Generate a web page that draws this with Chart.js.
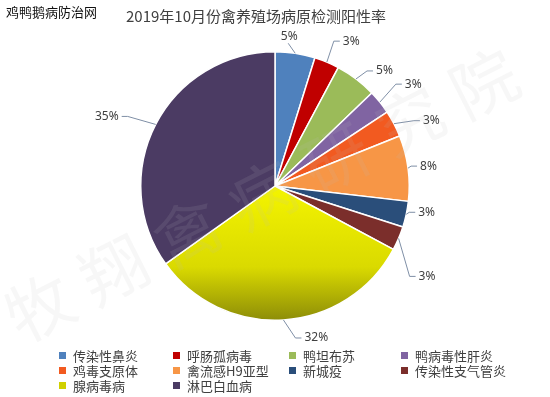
<!DOCTYPE html>
<html>
<head>
<meta charset="utf-8">
<script src="https://cdn.jsdelivr.net/npm/chart.js@4/dist/chart.umd.min.js"></script>
<style>
  body { margin: 0; background: #fff; }
  canvas { display: block; }
</style>
</head>
<body>
<canvas id="pie" width="550" height="397"></canvas>
<script>
const chartTitle = "2019年10月份禽养殖场病原检测阳性率";
const siteName = "鸡鸭鹅病防治网";
const watermark = "牧翔禽病研究院";
const categories = [
  "传染性鼻炎", "呼肠孤病毒", "鸭坦布苏", "鸭病毒性肝炎",
  "鸡毒支原体", "禽流感H9亚型", "新城疫", "传染性支气管炎",
  "腺病毒病", "淋巴白血病"
];
const positiveRates = [4.8, 3.0, 5.0, 2.9, 3.2, 7.9, 3.1, 2.9, 32.3, 34.8];
const sliceColors = [
  "#4F81BD", "#C00000", "#9BBB59", "#8064A2",
  "#F25A20", "#F79646", "#2A4E7A", "#7B2E2B",
  "yellow", "#4B3B63"
];

// leader line elbow offsets from slice edge, and label placement mode
const leaderOffsets = [
  [-7, -10, "up"], [7, -21], [11, -8], [16, -18], [20, -3],
  [3, -2], [3, -2], [11, 38], [12, 18], [-28, -8]
];

function yellowFill(context) {
  const area = context.chart.chartArea;
  if (!area) return "#E6E600";
  const cy = (area.top + area.bottom) / 2;
  const g = context.chart.ctx.createLinearGradient(0, cy, 0, area.bottom);
  g.addColorStop(0, "#F4F400");
  g.addColorStop(0.6, "#DADA00");
  g.addColorStop(1, "#8C8C08");
  return g;
}

const leaderPlugin = {
  id: "leaderLabels",
  afterDatasetsDraw(chart) {
    const ctx = chart.ctx;
    const arcs = chart.getDatasetMeta(0).data;
    ctx.save();
    ctx.font = "12px 'Noto Sans'";
    ctx.fillStyle = "#404040";
    ctx.strokeStyle = "#7F8FA6";
    ctx.lineWidth = 1;
    arcs.forEach(function (arc, i) {
      const mid = (arc.startAngle + arc.endAngle) / 2;
      const ax = arc.x + Math.cos(mid) * arc.outerRadius;
      const ay = arc.y + Math.sin(mid) * arc.outerRadius;
      const off = leaderOffsets[i];
      const ex = ax + off[0];
      const ey = ay + off[1];
      const text = Math.round(positiveRates[i]) + "%";
      ctx.beginPath();
      ctx.moveTo(ax, ay);
      ctx.lineTo(ex, ey);
      if (off[2] === "up") {
        ctx.stroke();
        ctx.textAlign = "center";
        ctx.textBaseline = "bottom";
        ctx.fillText(text, ex + 1, ey - 1);
        return;
      }
      const right = off[0] >= 0;
      const hx = right ? ex + 6 : ex - 6;
      ctx.lineTo(hx, ey);
      ctx.stroke();
      ctx.textAlign = right ? "left" : "right";
      ctx.textBaseline = "middle";
      ctx.fillText(text, right ? hx + 3 : hx - 3, ey);
    });
    ctx.restore();
  },
  afterDraw(chart) {
    const ctx = chart.ctx;
    ctx.save();
    // faint diagonal watermark
    ctx.fillStyle = "rgba(190, 190, 190, 0.12)";
    ctx.font = "66px 'Noto Sans CJK SC'";
    ctx.textAlign = "center";
    ctx.textBaseline = "middle";
    const ang = -26.8 * Math.PI / 180;
    Array.from(watermark).forEach(function (ch, i) {
      ctx.save();
      ctx.translate(40 + i * 74, 307 - i * 37.3);
      ctx.rotate(ang);
      ctx.fillText(ch, 0, 0);
      ctx.restore();
    });
    // site name
    ctx.fillStyle = "#111";
    ctx.font = "13px 'Noto Sans CJK SC'";
    ctx.textAlign = "left";
    ctx.textBaseline = "middle";
    ctx.fillText(siteName, 6, 12);
    // title
    ctx.fillStyle = "#404040";
    ctx.font = "15px 'Noto Sans CJK SC'";
    ctx.textAlign = "center";
    ctx.fillText(chartTitle, 256, 16);
    // legend
    const colX = [62, 176, 292, 404];
    const rowY = [355, 370, 385];
    ctx.font = "13px 'Noto Sans CJK SC'";
    ctx.textAlign = "left";
    categories.forEach(function (name, i) {
      const x = colX[i % 4];
      const y = rowY[Math.floor(i / 4)];
      ctx.fillStyle = i === 8 ? "#D0D000" : sliceColors[i];
      ctx.fillRect(x - 3, y - 3, 7, 7);
      ctx.fillStyle = "#404040";
      ctx.fillText(name, x + 11, y + 1);
    });
    ctx.restore();
  }
};

const chart = new Chart(document.getElementById("pie").getContext("2d"), {
  type: "pie",
  data: {
    labels: categories,
    datasets: [
      {
        data: positiveRates,
        backgroundColor: function (context) {
          return context.dataIndex === 8 ? yellowFill(context) : sliceColors[context.dataIndex];
        },
        borderColor: "#ffffff",
        borderWidth: 1.5,
        hoverOffset: 0,
      },
    ],
  },
  options: {
    responsive: false,
    animation: false,
    layout: {
      padding: { top: 51, bottom: 76, left: 140, right: 140 },
    },
    plugins: {
      legend: { display: false },
      title: { display: false },
      tooltip: { enabled: false },
    },
  },
  plugins: [leaderPlugin],
});
</script>
</body>
</html>
